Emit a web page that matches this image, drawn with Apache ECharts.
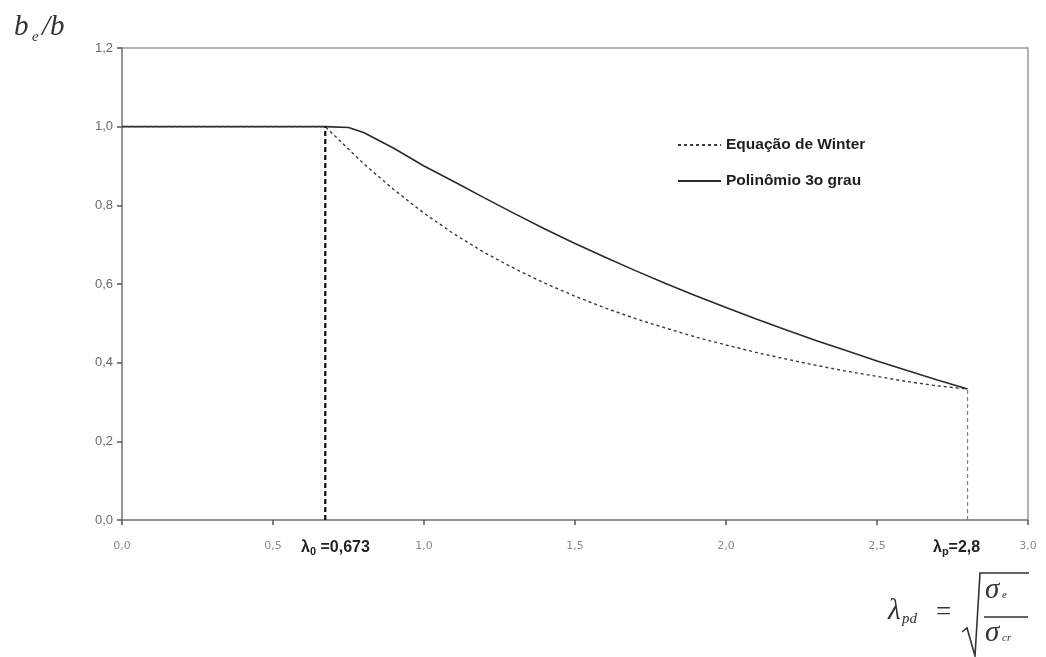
<!DOCTYPE html>
<html><head><meta charset="utf-8">
<script src="https://cdn.jsdelivr.net/npm/echarts@6/dist/echarts.min.js"></script>
<style>html,body{margin:0;padding:0;background:#fff}#c{width:1046px;height:657px}</style>
</head><body><div id="c"></div>
<script>
// Data
const lambdaValues = [0, 0.673, 0.75, 0.8, 0.9, 1.0, 1.1, 1.2, 1.3, 1.4, 1.5, 1.6, 1.7, 1.8, 1.9, 2.0, 2.1, 2.2, 2.3, 2.4, 2.5, 2.6, 2.7, 2.8];
const winterValues = [1.0, 1.0, 0.943, 0.906, 0.84, 0.78, 0.727, 0.68, 0.639, 0.602, 0.569, 0.539, 0.512, 0.488, 0.465, 0.445, 0.426, 0.409, 0.393, 0.378, 0.365, 0.352, 0.341, 0.333];
const polyValues   = [1.0, 1.0, 0.998, 0.985, 0.945, 0.90, 0.860, 0.819, 0.779, 0.740, 0.703, 0.668, 0.634, 0.601, 0.570, 0.540, 0.511, 0.483, 0.456, 0.430, 0.404, 0.380, 0.356, 0.333];
const lambda0 = 0.673;
const lambdaP = 2.8;
const limitValueAtP = 0.333;
const seriesNames = ['Equação de Winter', 'Polinômio 3o grau'];
const xTicks = {min: 0, max: 3, interval: 0.5};
const yTicks = {min: 0, max: 1.2, interval: 0.2};

const pairs = (xs, ys) => xs.map((x, i) => [x, ys[i]]);
const fmt = v => v.toFixed(1).replace('.', ',');

const serif = 'Liberation Serif, serif';
const sans = 'Liberation Sans, Arial';

const chart = echarts.init(document.getElementById('c'));
chart.setOption({
  animation: false,
  backgroundColor: '#fff',
  grid: {left: 122, right: 18, top: 48, bottom: 137, show: true, borderColor: '#9a9a9a', borderWidth: 1.5, backgroundColor: 'transparent'},
  legend: {
    orient: 'vertical', left: 672, top: 132, itemWidth: 43, itemHeight: 10, itemGap: 20,
    data: seriesNames,
    itemStyle: {opacity: 0},
    textStyle: {fontFamily: sans, fontSize: 15.5, fontWeight: 'bold', color: '#1e1e1e', padding: [0, 0, 0, 0]}
  },
  xAxis: {
    type: 'value', min: xTicks.min, max: xTicks.max, interval: xTicks.interval,
    axisLine: {show: true, lineStyle: {color: '#8a8a8a', width: 1.5}},
    axisTick: {show: true, inside: false, length: 5, lineStyle: {color: '#555', width: 1.5}},
    splitLine: {show: false},
    axisLabel: {formatter: fmt, margin: 21, color: '#8a8a8a', fontFamily: 'DejaVu Sans, sans-serif', fontSize: 11}
  },
  yAxis: {
    type: 'value', min: yTicks.min, max: yTicks.max, interval: yTicks.interval,
    axisLine: {show: true, lineStyle: {color: '#8a8a8a', width: 1.5}},
    axisTick: {show: true, length: 5, lineStyle: {color: '#555', width: 1.5}},
    splitLine: {show: false},
    axisLabel: {formatter: fmt, margin: 9, color: '#6a6a6a', fontFamily: sans, fontSize: 13}
  },
  series: [
    {
      name: seriesNames[0], type: 'line', symbol: 'none', z: 3,
      data: pairs(lambdaValues, winterValues),
      lineStyle: {color: '#3a3a3a', width: 1.4, type: [3, 3]},
      itemStyle: {color: '#3a3a3a'}
    },
    {
      name: seriesNames[1], type: 'line', symbol: 'none', z: 2,
      data: pairs(lambdaValues, polyValues),
      lineStyle: {color: '#2a2a2a', width: 1.6},
      itemStyle: {color: '#2a2a2a'}
    },
    {
      name: 'l0', type: 'line', symbol: 'none', z: 4,
      data: [[lambda0, 0], [lambda0, 1.0]],
      lineStyle: {color: '#111', width: 2.2, type: [5, 3]}
    },
    {
      name: 'lp', type: 'line', symbol: 'none', z: 4,
      data: [[lambdaP, 0], [lambdaP, limitValueAtP]],
      lineStyle: {color: '#777', width: 1.1, type: [4, 3]}
    }
  ],
  graphic: [
    {type: 'text', left: 14, top: 13, style: {text: 'b', fontFamily: serif, fontStyle: 'italic', fontSize: 29, fill: '#333'}},
    {type: 'text', left: 32, top: 30, style: {text: 'e', fontFamily: serif, fontStyle: 'italic', fontSize: 15, fill: '#333'}},
    {type: 'text', left: 42, top: 13, style: {text: '/b', fontFamily: serif, fontStyle: 'italic', fontSize: 29, fill: '#333'}},
    {type: 'text', left: 301, top: 540, style: {
      text: '{l|λ}{s|0}{l| =0,673}',
      rich: {
        l: {fontFamily: sans, fontWeight: 'bold', fontSize: 16, fill: '#222'},
        s: {fontFamily: sans, fontWeight: 'bold', fontSize: 11, fill: '#222', padding: [8, 0, 0, 0]}
      }}},
    {type: 'text', left: 933, top: 540, style: {
      text: '{l|λ}{s|p}{l|=2,8}',
      rich: {
        l: {fontFamily: sans, fontWeight: 'bold', fontSize: 16, fill: '#222'},
        s: {fontFamily: sans, fontWeight: 'bold', fontSize: 11, fill: '#222', padding: [8, 0, 0, 0]}
      }}},
    {type: 'text', left: 888, top: 597, style: {text: 'λ', fontFamily: serif, fontStyle: 'italic', fontSize: 29, fill: '#333'}},
    {type: 'text', left: 902, top: 612, style: {text: 'pd', fontFamily: serif, fontStyle: 'italic', fontSize: 15, fill: '#333'}},
    {type: 'text', left: 936, top: 599, style: {text: '=', fontFamily: serif, fontSize: 27, fill: '#333'}},
    {type: 'polyline', shape: {points: [[962, 632], [967, 628], [975, 656], [980, 573], [1029, 573]]}, style: {stroke: '#333', lineWidth: 1.6, fill: null}},
    {type: 'line', shape: {x1: 984, y1: 617, x2: 1028, y2: 617}, style: {stroke: '#333', lineWidth: 1.5}},
    {type: 'text', left: 985, top: 576, style: {text: 'σ', fontFamily: serif, fontStyle: 'italic', fontSize: 29, fill: '#333'}},
    {type: 'text', left: 1002, top: 590, style: {text: 'e', fontFamily: serif, fontStyle: 'italic', fontSize: 11, fill: '#333'}},
    {type: 'text', left: 985, top: 619, style: {text: 'σ', fontFamily: serif, fontStyle: 'italic', fontSize: 29, fill: '#333'}},
    {type: 'text', left: 1002, top: 633, style: {text: 'cr', fontFamily: serif, fontStyle: 'italic', fontSize: 11, fill: '#333'}}
  ]
});
</script>
</body></html>
